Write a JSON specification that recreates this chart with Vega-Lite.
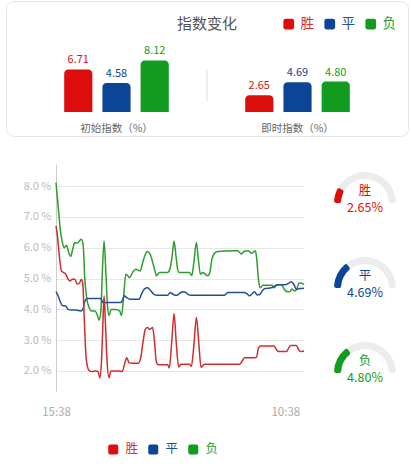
{
  "$schema": "https://vega.github.io/schema/vega-lite/v6.json",
  "padding": {"left": 5, "top": 0, "right": 0, "bottom": 0},
  "background": "white",
  "config": {
    "view": {"stroke": null},
    "font": "Noto Sans CJK SC",
    "text": {"font": "Noto Sans CJK SC"},
    "axis": {"labelFont": "Noto Sans CJK SC"},
    "legend": {"labelFont": "Noto Sans CJK SC"}
  },
  "datasets": {
    "bars": [
      {"g": "初始指数（%）", "k": "胜", "v": 6.71},
      {"g": "初始指数（%）", "k": "平", "v": 4.58},
      {"g": "初始指数（%）", "k": "负", "v": 8.12},
      {"g": "即时指数（%）", "k": "胜", "v": 2.65},
      {"g": "即时指数（%）", "k": "平", "v": 4.69},
      {"g": "即时指数（%）", "k": "负", "v": 4.80}
    ],
    "gauge": [
      {"k": "胜", "v": 2.65},
      {"k": "平", "v": 4.69},
      {"k": "负", "v": 4.80}
    ],
    "series": [
      {"m":0,"k":"负","v":8.12},{"m":10,"k":"负","v":7.4},{"m":23,"k":"负","v":6.5},{"m":32,"k":"负","v":6.17},{"m":40,"k":"负","v":6.0},{"m":52,"k":"负","v":6.08},{"m":63,"k":"负","v":5.85},{"m":73,"k":"负","v":5.72},{"m":83,"k":"负","v":5.95},{"m":93,"k":"负","v":6.17},{"m":106,"k":"负","v":6.15},{"m":116,"k":"负","v":6.22},{"m":126,"k":"负","v":6.28},{"m":135,"k":"负","v":6.1},{"m":143,"k":"负","v":5.0},{"m":153,"k":"负","v":4.35},{"m":165,"k":"负","v":4.05},{"m":176,"k":"负","v":3.95},{"m":194,"k":"负","v":3.95},{"m":206,"k":"负","v":3.8},{"m":214,"k":"负","v":3.65},{"m":223,"k":"负","v":3.95},{"m":231,"k":"负","v":5.3},{"m":239,"k":"负","v":6.22},{"m":248,"k":"负","v":5.2},{"m":256,"k":"负","v":4.1},{"m":264,"k":"负","v":3.8},{"m":274,"k":"负","v":4.0},{"m":297,"k":"负","v":4.0},{"m":316,"k":"负","v":3.95},{"m":326,"k":"负","v":3.8},{"m":336,"k":"负","v":4.4},{"m":347,"k":"负","v":5.14},{"m":356,"k":"负","v":5.1},{"m":366,"k":"负","v":5.03},{"m":381,"k":"负","v":5.2},{"m":397,"k":"负","v":5.3},{"m":419,"k":"负","v":5.25},{"m":430,"k":"负","v":5.5},{"m":442,"k":"负","v":5.75},{"m":455,"k":"负","v":5.88},{"m":469,"k":"负","v":5.78},{"m":480,"k":"负","v":5.55},{"m":492,"k":"负","v":5.25},{"m":500,"k":"负","v":5.09},{"m":514,"k":"负","v":5.2},{"m":555,"k":"负","v":5.2},{"m":568,"k":"负","v":5.35},{"m":577,"k":"负","v":5.7},{"m":587,"k":"负","v":6.22},{"m":597,"k":"负","v":5.7},{"m":605,"k":"负","v":5.3},{"m":613,"k":"负","v":5.2},{"m":663,"k":"负","v":5.2},{"m":675,"k":"负","v":5.1},{"m":685,"k":"负","v":5.5},{"m":698,"k":"负","v":6.17},{"m":708,"k":"负","v":5.6},{"m":718,"k":"负","v":5.14},{"m":730,"k":"负","v":5.2},{"m":741,"k":"负","v":5.15},{"m":753,"k":"负","v":5.09},{"m":765,"k":"负","v":5.2},{"m":774,"k":"负","v":5.6},{"m":788,"k":"负","v":5.82},{"m":804,"k":"负","v":5.88},{"m":888,"k":"负","v":5.9},{"m":904,"k":"负","v":5.9},{"m":921,"k":"负","v":5.8},{"m":934,"k":"负","v":5.88},{"m":954,"k":"负","v":5.9},{"m":974,"k":"负","v":5.82},{"m":991,"k":"负","v":5.9},{"m":997,"k":"负","v":5.7},{"m":1007,"k":"负","v":4.95},{"m":1015,"k":"负","v":4.7},{"m":1029,"k":"负","v":4.78},{"m":1074,"k":"负","v":4.78},{"m":1084,"k":"负","v":4.7},{"m":1097,"k":"负","v":4.8},{"m":1120,"k":"负","v":4.8},{"m":1133,"k":"负","v":4.68},{"m":1146,"k":"负","v":4.58},{"m":1162,"k":"负","v":4.57},{"m":1173,"k":"负","v":4.66},{"m":1187,"k":"负","v":4.6},{"m":1197,"k":"负","v":4.66},{"m":1208,"k":"负","v":4.85},{"m":1220,"k":"负","v":4.86},{"m":1233,"k":"负","v":4.8},
      {"m":0,"k":"平","v":4.58},{"m":10,"k":"平","v":4.45},{"m":20,"k":"平","v":4.27},{"m":32,"k":"平","v":4.12},{"m":48,"k":"平","v":4.11},{"m":60,"k":"平","v":4.0},{"m":76,"k":"平","v":3.98},{"m":98,"k":"平","v":3.98},{"m":123,"k":"平","v":3.95},{"m":133,"k":"平","v":4.0},{"m":143,"k":"平","v":4.25},{"m":153,"k":"平","v":4.35},{"m":223,"k":"平","v":4.35},{"m":233,"k":"平","v":4.22},{"m":322,"k":"平","v":4.22},{"m":331,"k":"平","v":4.3},{"m":339,"k":"平","v":4.44},{"m":352,"k":"平","v":4.38},{"m":366,"k":"平","v":4.33},{"m":414,"k":"平","v":4.33},{"m":425,"k":"平","v":4.5},{"m":439,"k":"平","v":4.66},{"m":455,"k":"平","v":4.7},{"m":472,"k":"平","v":4.6},{"m":485,"k":"平","v":4.5},{"m":499,"k":"平","v":4.46},{"m":555,"k":"平","v":4.46},{"m":568,"k":"平","v":4.55},{"m":580,"k":"平","v":4.5},{"m":592,"k":"平","v":4.46},{"m":605,"k":"平","v":4.47},{"m":618,"k":"平","v":4.54},{"m":633,"k":"平","v":4.57},{"m":645,"k":"平","v":4.55},{"m":658,"k":"平","v":4.48},{"m":671,"k":"平","v":4.46},{"m":838,"k":"平","v":4.46},{"m":854,"k":"平","v":4.55},{"m":937,"k":"平","v":4.55},{"m":950,"k":"平","v":4.5},{"m":962,"k":"平","v":4.44},{"m":974,"k":"平","v":4.5},{"m":987,"k":"平","v":4.57},{"m":1000,"k":"平","v":4.47},{"m":1012,"k":"平","v":4.48},{"m":1025,"k":"平","v":4.6},{"m":1039,"k":"平","v":4.68},{"m":1070,"k":"平","v":4.7},{"m":1087,"k":"平","v":4.75},{"m":1104,"k":"平","v":4.8},{"m":1137,"k":"平","v":4.8},{"m":1157,"k":"平","v":4.85},{"m":1170,"k":"平","v":4.9},{"m":1183,"k":"平","v":4.8},{"m":1195,"k":"平","v":4.65},{"m":1212,"k":"平","v":4.68},{"m":1233,"k":"平","v":4.69},
      {"m":0,"k":"胜","v":6.71},{"m":7,"k":"胜","v":6.4},{"m":17,"k":"胜","v":5.7},{"m":27,"k":"胜","v":5.25},{"m":37,"k":"胜","v":5.2},{"m":48,"k":"胜","v":5.15},{"m":60,"k":"胜","v":4.98},{"m":70,"k":"胜","v":4.92},{"m":81,"k":"胜","v":4.98},{"m":93,"k":"胜","v":4.98},{"m":106,"k":"胜","v":4.82},{"m":116,"k":"胜","v":4.85},{"m":126,"k":"胜","v":4.97},{"m":133,"k":"胜","v":4.85},{"m":140,"k":"胜","v":3.8},{"m":148,"k":"胜","v":2.6},{"m":156,"k":"胜","v":2.15},{"m":166,"k":"胜","v":2.0},{"m":176,"k":"胜","v":1.98},{"m":198,"k":"胜","v":2.0},{"m":209,"k":"胜","v":1.98},{"m":218,"k":"胜","v":1.78},{"m":226,"k":"胜","v":2.3},{"m":233,"k":"胜","v":3.5},{"m":239,"k":"胜","v":4.44},{"m":246,"k":"胜","v":3.5},{"m":254,"k":"胜","v":2.3},{"m":264,"k":"胜","v":1.78},{"m":273,"k":"胜","v":2.0},{"m":317,"k":"胜","v":2.0},{"m":329,"k":"胜","v":1.98},{"m":342,"k":"胜","v":2.25},{"m":352,"k":"胜","v":2.43},{"m":363,"k":"胜","v":2.27},{"m":377,"k":"胜","v":2.25},{"m":409,"k":"胜","v":2.25},{"m":422,"k":"胜","v":2.45},{"m":434,"k":"胜","v":3.0},{"m":444,"k":"胜","v":3.35},{"m":455,"k":"胜","v":3.41},{"m":467,"k":"胜","v":3.35},{"m":480,"k":"胜","v":3.41},{"m":489,"k":"胜","v":3.0},{"m":499,"k":"胜","v":2.3},{"m":509,"k":"胜","v":2.2},{"m":555,"k":"胜","v":2.2},{"m":563,"k":"胜","v":2.1},{"m":575,"k":"胜","v":2.9},{"m":587,"k":"胜","v":3.86},{"m":598,"k":"胜","v":2.9},{"m":610,"k":"胜","v":2.13},{"m":621,"k":"胜","v":2.22},{"m":663,"k":"胜","v":2.22},{"m":673,"k":"胜","v":2.15},{"m":685,"k":"胜","v":2.8},{"m":698,"k":"胜","v":3.74},{"m":710,"k":"胜","v":2.9},{"m":721,"k":"胜","v":2.12},{"m":738,"k":"胜","v":2.22},{"m":912,"k":"胜","v":2.22},{"m":924,"k":"胜","v":2.3},{"m":937,"k":"胜","v":2.43},{"m":987,"k":"胜","v":2.43},{"m":997,"k":"胜","v":2.45},{"m":1007,"k":"胜","v":2.75},{"m":1017,"k":"胜","v":2.81},{"m":1084,"k":"胜","v":2.81},{"m":1097,"k":"胜","v":2.68},{"m":1107,"k":"胜","v":2.63},{"m":1146,"k":"胜","v":2.63},{"m":1157,"k":"胜","v":2.75},{"m":1167,"k":"胜","v":2.83},{"m":1195,"k":"胜","v":2.83},{"m":1207,"k":"胜","v":2.68},{"m":1217,"k":"胜","v":2.63},{"m":1233,"k":"胜","v":2.65}
    ]
  },
  "bounds": "flush",
  "spacing": 28,
  "resolve": {
    "scale": {"color": "independent", "stroke": "independent"},
    "legend": {"color": "independent", "stroke": "independent"}
  },
  "vconcat": [
    {
      "width": 402,
      "height": 135,
      "view": {"stroke": "#e4e4e4", "cornerRadius": 8},
      "layer": [
        {
          "data": {"name": "bars"},
          "mark": {"type": "bar", "cornerRadiusTopLeft": 4, "cornerRadiusTopRight": 4},
          "encoding": {
            "x": {"field": "g", "type": "nominal", "scale": {"domain": ["初始指数（%）", "即时指数（%）"], "paddingInner": 0, "paddingOuter": 0.1105}, "axis": null},
            "xOffset": {"field": "k", "type": "nominal", "scale": {"domain": ["胜", "平", "负"], "paddingInner": 0.263, "paddingOuter": 1.013}},
            "y": {"field": "v", "type": "quantitative", "scale": {"domain": [-3.78, 17.48], "nice": false, "zero": false}, "axis": null},
            "y2": {"datum": 0},
            "color": {
              "field": "k", "type": "nominal",
              "scale": {"domain": ["胜", "平", "负"], "range": ["#dd0d0d", "#0c4596", "#119b1f"]},
              "legend": {
                "orient": "none", "legendX": 276, "legendY": 16, "direction": "horizontal", "title": null,
                "symbolType": "M-1,-0.6 Q-1,-1 -0.6,-1 L0.6,-1 Q1,-1 1,-0.6 L1,0.6 Q1,1 0.6,1 L-0.6,1 Q-1,1 -1,0.6 Z",
                "symbolSize": 115, "symbolStrokeWidth": 0, "labelFontSize": 13.5, "labelOffset": 5, "columnPadding": 9,
                "labelColor": {"expr": "datum.value == '胜' ? '#d32f2f' : datum.value == '平' ? '#1d4f96' : '#2a9d35'"}
              }
            }
          }
        },
        {
          "data": {"name": "bars"},
          "mark": {"type": "text", "dy": -9, "fontSize": 11, "baseline": "middle"},
          "encoding": {
            "x": {"field": "g", "type": "nominal"},
            "xOffset": {"field": "k", "type": "nominal"},
            "y": {"field": "v", "type": "quantitative"},
            "text": {"field": "v", "type": "quantitative", "format": ".2f"},
            "color": {"field": "k", "type": "nominal"}
          }
        },
        {
          "data": {"values": [{"g": "初始指数（%）"}, {"g": "即时指数（%）"}]},
          "mark": {"type": "text", "fontSize": 10.5, "color": "#666666", "baseline": "middle"},
          "encoding": {
            "x": {"field": "g", "type": "nominal"},
            "y": {"datum": -2.68},
            "text": {"field": "g"}
          }
        },
        {
          "data": {"values": [{}]},
          "mark": {"type": "rule", "color": "#dddddd", "strokeWidth": 1},
          "encoding": {
            "x": {"datum": "初始指数（%）", "bandPosition": 1},
            "y": {"datum": 1.73},
            "y2": {"datum": 6.77}
          }
        },
        {
          "data": {"values": [{"t": "指数变化"}]},
          "mark": {"type": "text", "fontSize": 15, "color": "#555555", "baseline": "middle"},
          "encoding": {
            "y": {"datum": 13.86},
            "text": {"field": "t"}
          }
        }
      ]
    },
    {
      "bounds": "flush",
      "spacing": 26,
      "resolve": {
        "scale": {"stroke": "independent"},
        "legend": {"stroke": "independent"}
      },
      "hconcat": [
        {
          "width": 24, "height": 10,
          "data": {"values": [{}]},
          "mark": {"type": "text", "text": " "},
          "encoding": {}
        },
        {
          "width": 248,
          "height": 227,
          "data": {"name": "series"},
          "mark": {"type": "line", "interpolate": "monotone", "strokeWidth": 1.5},
          "encoding": {
            "x": {
              "field": "m", "type": "quantitative",
              "scale": {"domain": [0, 1233], "nice": false, "zero": false},
              "axis": {"values": [0, 1140], "labelExpr": "datum.value == 0 ? '15:38' : '10:38'", "domain": false, "ticks": false, "tickSize": 0, "grid": false, "labelPadding": 15, "labelFontSize": 11.5, "labelColor": "#aaaaaa", "title": null, "labelFlush": false}
            },
            "y": {
              "field": "v", "type": "quantitative",
              "scale": {"domain": [1.35, 8.72], "nice": false, "zero": false},
              "axis": {"values": [2, 3, 4, 5, 6, 7, 8], "labelExpr": "format(datum.value, '.1f') + ' %'", "labelOverlap": false, "grid": true, "gridColor": "#e6e6e6", "domainColor": "#cccccc", "ticks": false, "tickSize": 0, "labelPadding": 5, "labelColor": "#bbbbbb", "labelFontSize": 11, "title": null}
            },
            "stroke": {"field": "k", "type": "nominal", "scale": {"domain": ["胜", "平", "负"], "range": ["#d12c2c", "#234f94", "#2e9d2e"]}, "legend": null}
          }
        },
        {
          "bounds": "flush",
          "spacing": 7,
          "vconcat": [
            {
              "width": 70, "height": 78,
              "data": {"name": "gauge"},
              "transform": [{"filter": "datum.k == '胜'"}, {"calculate": "format(datum.v, '.2f') + '%'", "as": "label"}],
              "layer": [
                {"mark": {"type": "arc", "outerRadius": 31, "innerRadius": 24, "cornerRadius": 2, "color": "#ececec", "theta": -1.5708, "theta2": 1.5708},
                 "encoding": {}},
                {"mark": {"type": "arc", "outerRadius": 31, "innerRadius": 24, "cornerRadius": 2},
                 "encoding": {"theta": {"field": "v", "type": "quantitative", "scale": {"domain": [0, 16], "range": [-1.5708, 1.5708]}}, "color": {"field": "k", "type": "nominal", "scale": {"domain": ["胜", "平", "负"], "range": ["#dd0d0d", "#0c4596", "#119b1f"]}, "legend": null}}},
                {"mark": {"type": "text", "dy": -12.5, "fontSize": 12.5, "baseline": "middle"},
                 "encoding": {"text": {"field": "k"}, "color": {"field": "k", "type": "nominal"}}},
                {"mark": {"type": "text", "dy": 5, "fontSize": 12.5, "baseline": "middle"},
                 "encoding": {"text": {"field": "label"}, "color": {"field": "k", "type": "nominal"}}}
              ]
            },
            {
              "width": 70, "height": 78,
              "data": {"name": "gauge"},
              "transform": [{"filter": "datum.k == '平'"}, {"calculate": "format(datum.v, '.2f') + '%'", "as": "label"}],
              "layer": [
                {"mark": {"type": "arc", "outerRadius": 31, "innerRadius": 24, "cornerRadius": 2, "color": "#ececec", "theta": -1.5708, "theta2": 1.5708},
                 "encoding": {}},
                {"mark": {"type": "arc", "outerRadius": 31, "innerRadius": 24, "cornerRadius": 2},
                 "encoding": {"theta": {"field": "v", "type": "quantitative", "scale": {"domain": [0, 16], "range": [-1.5708, 1.5708]}}, "color": {"field": "k", "type": "nominal", "scale": {"domain": ["胜", "平", "负"], "range": ["#dd0d0d", "#0c4596", "#119b1f"]}, "legend": null}}},
                {"mark": {"type": "text", "dy": -12.5, "fontSize": 12.5, "baseline": "middle"},
                 "encoding": {"text": {"field": "k"}, "color": {"field": "k", "type": "nominal"}}},
                {"mark": {"type": "text", "dy": 5, "fontSize": 12.5, "baseline": "middle"},
                 "encoding": {"text": {"field": "label"}, "color": {"field": "k", "type": "nominal"}}}
              ]
            },
            {
              "width": 70, "height": 78,
              "data": {"name": "gauge"},
              "transform": [{"filter": "datum.k == '负'"}, {"calculate": "format(datum.v, '.2f') + '%'", "as": "label"}],
              "layer": [
                {"mark": {"type": "arc", "outerRadius": 31, "innerRadius": 24, "cornerRadius": 2, "color": "#ececec", "theta": -1.5708, "theta2": 1.5708},
                 "encoding": {}},
                {"mark": {"type": "arc", "outerRadius": 31, "innerRadius": 24, "cornerRadius": 2},
                 "encoding": {"theta": {"field": "v", "type": "quantitative", "scale": {"domain": [0, 16], "range": [-1.5708, 1.5708]}}, "color": {"field": "k", "type": "nominal", "scale": {"domain": ["胜", "平", "负"], "range": ["#dd0d0d", "#0c4596", "#119b1f"]}, "legend": null}}},
                {"mark": {"type": "text", "dy": -12.5, "fontSize": 12.5, "baseline": "middle"},
                 "encoding": {"text": {"field": "k"}, "color": {"field": "k", "type": "nominal"}}},
                {"mark": {"type": "text", "dy": 5, "fontSize": 12.5, "baseline": "middle"},
                 "encoding": {"text": {"field": "label"}, "color": {"field": "k", "type": "nominal"}}}
              ]
            }
          ]
        }
      ]
    },
    {
      "width": 248,
      "height": 1,
      "data": {"name": "gauge"},
      "mark": {"type": "square", "opacity": 0},
      "encoding": {
        "color": {
          "field": "k", "type": "nominal",
          "scale": {"domain": ["胜", "平", "负"], "range": ["#dd0d0d", "#0c4596", "#119b1f"]},
          "legend": {
            "orient": "none", "legendX": 101, "legendY": 251, "direction": "horizontal", "title": null,
            "symbolType": "M-1,-0.6 Q-1,-1 -0.6,-1 L0.6,-1 Q1,-1 1,-0.6 L1,0.6 Q1,1 0.6,1 L-0.6,1 Q-1,1 -1,0.6 Z",
            "symbolSize": 100, "symbolStrokeWidth": 0, "symbolOpacity": 1, "labelFontSize": 12.5, "labelOffset": 6, "columnPadding": 8,
            "labelColor": {"expr": "datum.value == '胜' ? '#d32f2f' : datum.value == '平' ? '#1d4f96' : '#2a9d35'"}
          }
        }
      }
    }
  ]
}
